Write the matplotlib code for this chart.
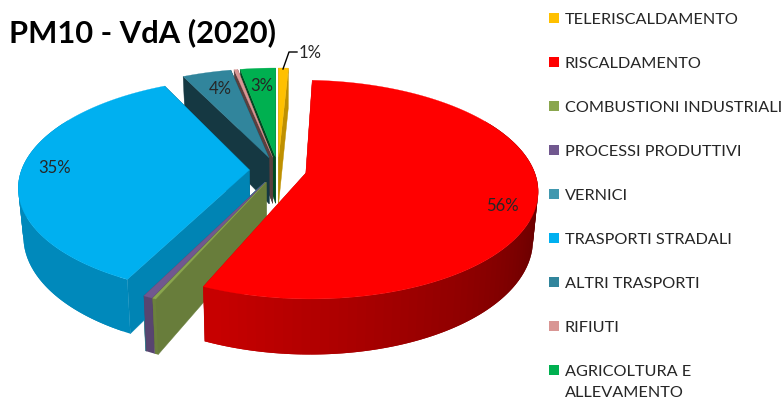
import numpy as np
import matplotlib
matplotlib.use("Agg")
import matplotlib.pyplot as plt
from matplotlib.patches import Polygon, Rectangle

categories = ["TELERISCALDAMENTO", "RISCALDAMENTO", "COMBUSTIONI INDUSTRIALI", "PROCESSI PRODUTTIVI",
              "VERNICI", "TRASPORTI STRADALI", "ALTRI TRASPORTI", "RIFIUTI", "AGRICOLTURA E\nALLEVAMENTO"]
values = [0.8, 55.5, 0.2, 0.55, 0.03, 35.2, 4.0, 0.3, 2.9]
pct_labels = ["1%", "56%", "", "", "", "35%", "4%", "", "3%"]
colors = ["#ffc000", "#ff0000", "#8aa64e", "#71588f", "#4198af", "#00b0f0", "#31859c", "#d99694", "#00b050"]

# screen geometry of the fake 3D pie, in pixels
CX, CY = 278, 171
RX, RY = 228, 106
PERSP = 0.15
DEPTH = 47
EXPLODE = 0.125


def project(u, v, z=0.0):
    s = 1 / (1 + PERSP * v)
    x = CX + RX * u * s * (1 - 0.02 * z)
    y = CY - RY * v * s + DEPTH * z * s
    return x, y


def shaded(color, factor):
    rgb = np.array(matplotlib.colors.to_rgb(color))
    return tuple(rgb * factor)


def rim_factor(theta):
    return float(np.clip(0.36 + 0.44 * (theta - 90) / 115, 0.36, 0.78))


def draw_slice(ax, t0, t1, color):
    mid = np.radians((t0 + t1) / 2)
    ox, oy = EXPLODE * np.sin(mid), EXPLODE * np.cos(mid)

    def rim_pt(theta, z=0.0):
        a = np.radians(theta)
        return project(ox + np.sin(a), oy + np.cos(a), z)

    # radial walls, the ones at the back are much darker
    # t1 goes first: for the big slices its wall is the hidden one
    for theta in (t1, t0):
        factor = 0.75 if theta < 300 else 0.42
        pts = [project(ox, oy), rim_pt(theta), rim_pt(theta, 1), project(ox, oy, 1)]
        c = shaded(color, factor)
        ax.add_patch(Polygon(pts, closed=True, fc=c, ec=c, lw=0.3))

    # outer side, strips overlap so the gradient has no seams
    steps = np.linspace(t0, t1, max(2, int((t1 - t0) / 2) + 2))
    for k in range(len(steps) - 1):
        a, b = steps[k], steps[min(k + 2, len(steps) - 1)]
        if np.cos(np.radians((a + b) / 2)) > 0.5:
            continue  # back side, hidden by the top
        pts = [rim_pt(t) for t in np.linspace(a, b, 5)]
        pts += [rim_pt(t, 1) for t in np.linspace(b, a, 5)]
        c = shaded(color, rim_factor(a))
        ax.add_patch(Polygon(pts, closed=True, fc=c, ec="none"))

    # top face
    arc = np.linspace(t0, t1, max(2, int(t1 - t0) + 2))
    pts = [project(ox, oy)] + [rim_pt(t) for t in arc]
    ax.add_patch(Polygon(pts, closed=True, fc=color, ec=color, lw=0.2))


def main():
    plt.rcParams["font.family"] = ["Lato", "DejaVu Sans"]
    fig = plt.figure(figsize=(7.82, 4.02), dpi=100)
    ax = fig.add_axes([0, 0, 1, 1])
    ax.set_xlim(0, 782)
    ax.set_ylim(402, 0)
    ax.axis("off")

    total = sum(values)
    edges = np.concatenate([[0], np.cumsum(values) / total * 360])

    # back slices first, from the right, the red one last
    for i in [0, 8, 7, 6, 4, 5, 3, 2, 1]:
        draw_slice(ax, edges[i], edges[i + 1], colors[i])

    dark = "#262626"
    ax.text(502, 206, pct_labels[1], fontsize=12, color=dark, ha="center", va="center")
    ax.text(55, 168, pct_labels[5], fontsize=12, color=dark, ha="center", va="center")
    ax.text(220, 89, pct_labels[6], fontsize=12, color=dark, ha="center", va="center")
    ax.text(262, 86, pct_labels[8], fontsize=12, color=dark, ha="center", va="center")
    ax.text(310, 53, pct_labels[0], fontsize=12, color=dark, ha="center", va="center")
    ax.plot([283, 289, 297], [70, 53, 53], color="black", lw=1)

    ax.text(9, 33, "PM10 - VdA (2020)", fontsize=22.2, fontweight="bold", color="black", va="center")

    # legend
    for i, (name, c) in enumerate(zip(categories, colors)):
        y = 19 + 44.0 * i
        ax.add_patch(Rectangle((549, y - 5), 10, 10, fc=c, ec="none"))
        ax.text(565, y - 6, name, fontsize=11.7, color=dark, va="top", linespacing=1.62)

    fig.savefig("out.png", dpi=100)


if __name__ == "__main__":
    main()
